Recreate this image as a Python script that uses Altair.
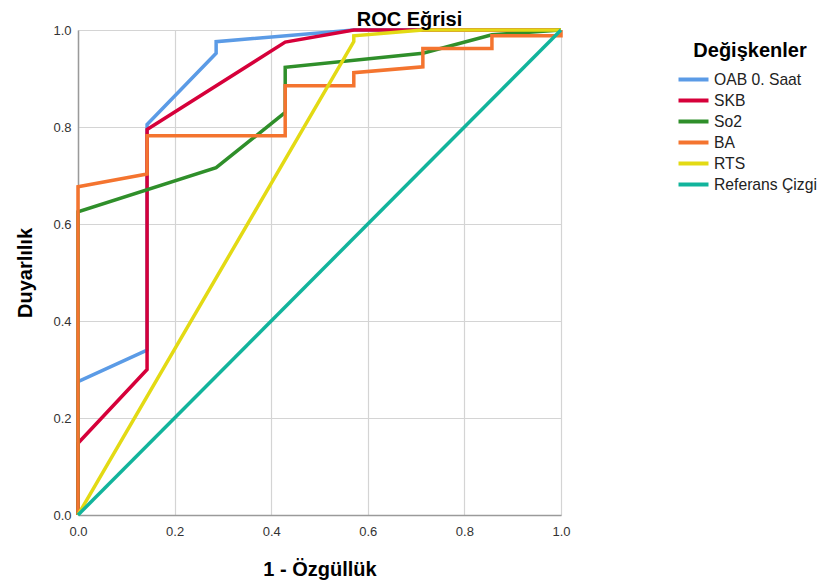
import altair as alt
import pandas as pd

series = ["OAB 0. Saat", "SKB", "So2", "BA", "RTS", "Referans Çizgi"]
colors = ["#5b9be6", "#d6003a", "#2f8f2a", "#f4742f", "#e3da14", "#12b49c"]

oab_x = [0, 0, 0.143, 0.143, 0.286, 0.286, 0.571, 1.0]
oab_y = [0, 0.275, 0.34, 0.805, 0.952, 0.976, 1.0, 1.0]
skb_x = [0, 0, 0.143, 0.143, 0.429, 0.571, 1.0]
skb_y = [0, 0.148, 0.30, 0.795, 0.975, 1.0, 1.0]
so2_x = [0, 0, 0.286, 0.429, 0.429, 0.714, 0.857, 1.0]
so2_y = [0, 0.625, 0.716, 0.83, 0.923, 0.952, 0.99, 1.0]
ba_x = [0, 0, 0.143, 0.143, 0.429, 0.429, 0.571, 0.571, 0.714, 0.714, 0.857, 0.857, 1.0, 1.0]
ba_y = [0, 0.677, 0.703, 0.782, 0.782, 0.885, 0.885, 0.912, 0.924, 0.962, 0.962, 0.988, 0.988, 1.0]
rts_x = [0, 0.571, 0.571, 0.714, 1.0]
rts_y = [0, 0.976, 0.988, 1.0, 1.0]
ref_x = [0, 1.0]
ref_y = [0, 1.0]

tick_values = [0.0, 0.2, 0.4, 0.6, 0.8, 1.0]

rows = []
for name, xs, ys in zip(series,
                        [oab_x, skb_x, so2_x, ba_x, rts_x, ref_x],
                        [oab_y, skb_y, so2_y, ba_y, rts_y, ref_y]):
    for i, (xv, yv) in enumerate(zip(xs, ys)):
        rows.append({"series": name, "x": xv, "y": yv, "i": i})
df = pd.DataFrame(rows)

FONT = "Liberation Sans"

chart = alt.Chart(df).mark_line(strokeWidth=3.5).encode(
    x=alt.X("x:Q", scale=alt.Scale(domain=[0, 1], nice=False, zero=False),
            axis=alt.Axis(title="1 - Özgüllük", values=tick_values, format=".1f",
                          titlePadding=21, labelPadding=10, labelFlush=False)),
    y=alt.Y("y:Q", scale=alt.Scale(domain=[0, 1], nice=False, zero=False),
            axis=alt.Axis(title="Duyarlılık", values=tick_values, format=".1f",
                          titlePadding=17, labelPadding=7, labelFlush=False)),
    color=alt.Color("series:N", scale=alt.Scale(domain=series, range=colors),
                    sort=series,
                    legend=alt.Legend(title="Değişkenler", orient="none",
                                      legendX=606, legendY=11,
                                      symbolType="M-2,0H2", symbolSize=225,
                                      symbolStrokeWidth=4,
                                      labelFontSize=15.7, labelFont=FONT,
                                      labelColor="#222222",
                                      titleFontSize=20, titleFont=FONT,
                                      titleFontWeight="bold", titleColor="#000000",
                                      titleAnchor="middle", titlePadding=9,
                                      rowPadding=3, labelOffset=11)),
    order=alt.Order("i:Q"),
).properties(
    width=483, height=485,
    title=alt.TitleParams("ROC Eğrisi", fontSize=20, font=FONT, fontWeight="bold",
                          color="#000000", dx=90, offset=-7),
    autosize=alt.AutoSizeParams(type="none"),
    padding={"left": 70, "top": 22, "right": 257, "bottom": 68},
).configure_axis(
    labelFont=FONT, labelFontSize=13, labelColor="#333333",
    titleFont=FONT, titleFontSize=20, titleFontWeight="bold", titleColor="#000000",
    gridColor="#d4d4d4", gridWidth=1.2, domainColor="#9a9a9a", domainWidth=1.5,
    ticks=False,
).configure_view(stroke=None)

chart.save("out.html", embed_options={"renderer": "svg", "actions": False})
